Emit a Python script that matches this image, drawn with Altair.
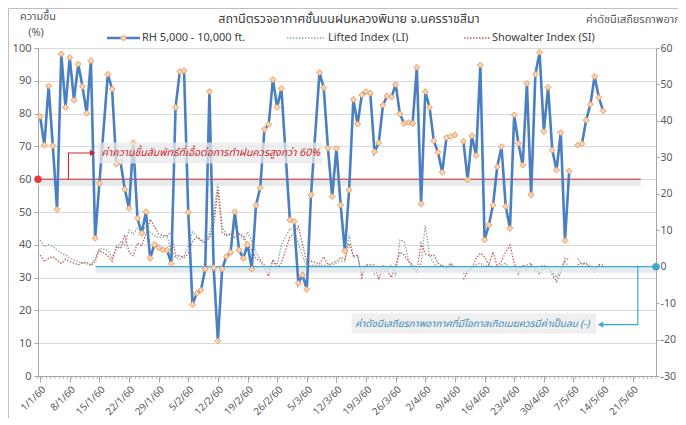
import json
import altair as alt
import pandas as pd

# ---------------- data ----------------
tick_labels = ["1/1/60", "8/1/60", "15/1/60", "22/1/60", "29/1/60", "5/2/60", "12/2/60",
               "19/2/60", "26/2/60", "5/3/60", "12/3/60", "19/3/60", "26/3/60", "2/4/60",
               "9/4/60", "16/4/60", "23/4/60", "30/4/60", "7/5/60", "14/5/60", "21/5/60"]
tick_days = [7 * i for i in range(len(tick_labels))]
n_axis_days = 146          # 1/1/60 .. 26/5/60 on the category date axis

# RH 5,000 - 10,000 ft. (%), one value per day from 1/1/60 (None = no sounding)
rh = [79.1, 70.4, 88.4, 70.2, 50.8, 98.2, 81.9, 97.1, 84.1, 95.1,
      88.3, 80.1, 96.1, 42.0, 58.7, None, 92.0, 87.5, 64.6, 65.3,
      56.9, 51.1, 71.1, 48.1, 43.5, 50.1, 35.9, 40.1, 39.1, 38.5,
      38.4, 34.2, 81.9, 92.8, 93.1, 49.9, 21.8, 25.2, 26.2, 32.6,
      86.7, 33.0, 10.7, 32.6, 36.4, 37.7, 50.1, 38.4, 35.9, 40.1,
      32.6, 52.1, 57.4, 75.2, 76.7, 90.4, 81.9, 87.7, None, 47.6,
      47.1, 28.3, 30.8, 26.4, 55.2, None, 92.5, 87.9, 69.4, 54.7,
      69.4, 52.1, 38.1, 56.7, 84.3, 76.8, 85.7, 86.7, 86.2, 68.4,
      71.1, 82.6, 85.4, 85.0, 88.9, 79.9, 77.0, 77.3, 77.0, 94.1,
      52.5, 86.7, 81.9, 71.7, 68.2, 62.1, 72.7, 73.0, 73.5, None,
      71.6, 59.8, 73.2, 67.2, 94.8, 41.5, 46.0, 52.1, 63.8, 69.9,
      51.7, 45.0, 79.6, 70.9, 64.3, 89.2, 55.2, 92.0, 98.7, 74.5,
      88.0, 68.9, 62.8, 74.2, 41.3, 62.5, None, 70.4, 70.8, 78.0,
      82.8, 91.3, 84.9, 80.9]

# Lifted Index (LI)
li = [7.3, 5.5, 6.1, 5.5, 4.6, 3.7, 3.2, 2.3, 1.8, 1.4,
      0.9, 1.4, 0.5, 2.3, 5.0, None, 4.5, 2.5, 5.0, 6.8,
      6.0, 10.0, 9.0, 10.5, 9.8, 11.0, 9.5, 8.5, 8.0, 8.0,
      8.5, 4.0, 2.5, 2.0, 3.0, 5.5, 9.5, 8.5, 7.0, 6.5,
      9.0, 14.0, 23.0, 11.0, 9.0, 8.5, 11.0, 9.0, 7.5, 9.5,
      7.0, 4.0, 2.0, 0.5, -1.0, 1.5, 0.5, 6.0, None, 10.5,
      10.0, 6.5, 3.0, -0.5, 0.5, None, 0.3, 0.5, 0.2, 0.5,
      1.0, 1.5, 1.5, 8.7, 2.5, 3.0, -2.0, 0.5, 0.0, -2.0,
      -1.0, -1.5, -1.0, 0.5, -2.5, 7.3, 7.0, 2.0, -0.5, -1.5,
      1.0, 11.4, 3.0, 1.0, 0.0, 0.5, -0.5, 0.5, 0.0, None,
      -2.0, -1.0, 0.0, 0.5, 1.0, 0.0, 0.5, 0.0, -0.5, 0.5,
      1.0, -0.5, -1.0, -0.5, 0.0, 0.5, 1.0, -1.0, 0.0, 0.5,
      -0.5, -1.5, -3.0, -1.0, 1.5, -0.5, None, 2.3, 0.5, 1.0,
      -0.5, -1.5, 0.5, -0.5]

# Showalter Index (SI)
si = [3.2, 1.4, 2.3, 2.7, 1.8, 0.9, 2.0, 1.4, 1.0, 0.5,
      1.2, 0.8, 0.3, 1.4, 4.5, None, 3.0, 1.5, 5.5, 5.0,
      8.7, 4.0, 3.0, 6.5, 5.8, 9.0, 13.0, 11.0, 9.0, 8.5,
      8.5, 9.5, 3.0, 3.0, 2.5, 3.5, 7.0, 8.0, 7.5, 6.5,
      8.0, 11.0, 21.0, 9.5, 8.5, 9.0, 8.0, 9.0, 8.5, 6.0,
      4.5, 2.3, 1.5, -0.5, -2.6, 2.0, -0.5, 1.0, None, 8.2,
      9.0, 11.0, 6.0, 1.0, 1.5, None, 0.8, 2.7, 0.5, 1.0,
      1.5, 2.5, 2.0, 6.4, 3.0, 3.2, -3.0, 0.5, 0.5, 0.5,
      -3.5, 0.5, -1.0, -3.0, 0.5, 4.0, 3.2, 1.5, 0.5, -1.5,
      6.4, 3.5, 3.0, 3.2, 1.0, 0.0, -0.5, 1.0, -0.5, None,
      -3.5, -1.5, -0.5, 2.3, 3.7, 2.7, 0.5, 4.0, 0.0, 1.5,
      4.1, 5.9, 1.0, -2.0, 0.5, -1.0, 0.5, -1.0, -2.0, -0.5,
      0.0, -2.3, -4.1, -1.5, 2.3, 2.0, None, 0.5, 1.0, 0.8,
      0.0, -0.5, 0.5, 0.5]

connected_gaps = [15, 58, 65]   # missing days that the lines bridge; other gaps break the lines

rh_threshold = 60
stability_threshold = 0

# ---------------- tables ----------------
rows = []
seg = 0
for d in range(len(rh)):
    if rh[d] is None:
        if d not in connected_gaps:
            seg += 1
        continue
    rows.append({"day": d, "seg": seg, "RH": rh[d], "LI": li[d], "SI": si[d]})
df = pd.DataFrame(rows)
minor_ticks = pd.DataFrame({"b": [i - 0.5 for i in range(n_axis_days + 1)]})

BLUE = "#4a7fc1"
LI_C = "#84ab9f"
SI_C = "#c2605e"
RED = "#c8262b"
CYAN = "#3fa7cf"
GRAY_T = "#595959"
AX_C = "#a6a6a6"
FONT = "Tahoma, 'Noto Sans Thai', 'Noto Sans', 'DejaVu Sans', sans-serif"

PAD_L, PAD_R, PAD_T, PAD_B = 30, 22, 40, 42
W, H = 618, 328
xdom = [-0.5, n_axis_days - 0.5]
xscale = alt.Scale(domain=xdom, nice=False, zero=False)
yl = alt.Scale(domain=[0, 100], nice=False, zero=False)
yr = alt.Scale(domain=[-30, 60], nice=False, zero=False)

label_expr = json.dumps(tick_labels) + "[round(datum.value / 7)]"
x_axis = alt.Axis(values=tick_days, labelExpr=label_expr, labelAngle=-45, labelAlign="right",
                  labelBaseline="top", labelFontSize=10, labelColor=GRAY_T, labelFont=FONT,
                  tickSize=6, tickColor=AX_C, domainColor=AX_C, grid=False, title=None,
                  labelPadding=2, labelOverlap=False, labelBound=False)
yl_axis = alt.Axis(orient="left", values=list(range(0, 101, 10)), grid=True, gridColor="#d9d9d9",
                   title=None, labelFontSize=11, labelColor=GRAY_T, labelFont=FONT, tickSize=4,
                   tickColor=AX_C, domainColor=AX_C, labelPadding=3)
yr_axis = alt.Axis(orient="right", values=list(range(-30, 61, 10)), grid=False, title=None,
                   labelFontSize=10.5, labelColor=GRAY_T, labelFont=FONT, tickSize=3,
                   tickColor=AX_C, domainColor=AX_C, labelPadding=1)


def X(field):
    return alt.X(field, scale=xscale, axis=x_axis)


def YR(field):
    return alt.Y(field, scale=yr, axis=yr_axis)


def YL(field):
    return alt.Y(field, scale=yl, axis=yl_axis)


base = alt.Chart(df)

# ---------- right-axis (stability index) layers ----------
li_line = base.mark_line(color=LI_C, strokeWidth=1.3, strokeDash=[1.5, 1.5]).encode(
    x=X("day:Q"), y=YR("LI:Q"), detail="seg:N")
si_line = base.mark_line(color=SI_C, strokeWidth=1.3, strokeDash=[1.5, 1.5]).encode(
    x=X("day:Q"), y=YR("SI:Q"), detail="seg:N")

cy = pd.DataFrame({"x": [13.1], "x2": [xdom[1]], "v": [stability_threshold],
                   "v2": [stability_threshold - 1.7]})
cy_shadow = alt.Chart(cy).mark_rect(color="#dde7ec", opacity=0.8).encode(
    x=X("x:Q"), x2="x2:Q", y=YR("v:Q"), y2="v2:Q")
cy_line = alt.Chart(cy).mark_rule(color=CYAN, strokeWidth=1.2).encode(
    x=X("x:Q"), x2="x2:Q", y=YR("v:Q"))
cy_dot = alt.Chart(pd.DataFrame({"x": [xdom[1]], "v": [stability_threshold]})).mark_point(
    filled=True, color=CYAN, size=55, opacity=1).encode(x=X("x:Q"), y=YR("v:Q"))

cy_box = alt.Chart(pd.DataFrame({"x": [73.6], "x2": [131.3], "v": [-12.8], "v2": [-18.4]})).mark_rect(
    color="#ececec", opacity=0.85).encode(x=X("x:Q"), x2="x2:Q", y=YR("v:Q"), y2="v2:Q")
cy_text = alt.Chart(pd.DataFrame({"x": [129.8], "v": [-15.7],
                                  "t": ["ค่าดัชนีเสถียรภาพอากาศที่มีโอกาสเกิดเมฆควรมีค่าเป็นลบ (-)"]})).mark_text(
    align="right", baseline="middle", fontStyle="italic", fontSize=10, color="#3b8db4", font=FONT).encode(
    x=X("x:Q"), y=YR("v:Q"), text="t:N")
cy_arrow = alt.Chart(pd.DataFrame({"x": [141.2, 141.2, 133.0], "v": [0, -15.9, -15.9], "o": [0, 1, 2]})).mark_line(
    color=CYAN, strokeWidth=1.2).encode(x=X("x:Q"), y=YR("v:Q"), order="o:Q")
cy_head = alt.Chart(pd.DataFrame({"x": [132.4], "v": [-15.9]})).mark_point(
    shape="triangle-left", filled=True, color=CYAN, size=40, opacity=1).encode(x=X("x:Q"), y=YR("v:Q"))

right = alt.layer(li_line, si_line, cy_shadow, cy_line, cy_dot, cy_box, cy_arrow, cy_head, cy_text)

# ---------- left-axis (RH) layers ----------
rd = pd.DataFrame({"x": [xdom[0]], "x2": [141.9], "r": [rh_threshold], "r2": [rh_threshold - 2.1]})
rd_shadow = alt.Chart(rd).mark_rect(color="#e4e4e4", opacity=0.8).encode(
    x=X("x:Q"), x2="x2:Q", y=YL("r:Q"), y2="r2:Q")
rd_line = alt.Chart(rd).mark_rule(color=RED, strokeWidth=1).encode(
    x=X("x:Q"), x2="x2:Q", y=YL("r:Q"))
rd_dot = alt.Chart(rd).mark_point(filled=True, color="#e8383d", size=55, opacity=1).encode(
    x=X("x:Q"), y=YL("r:Q"))

rh_line = base.mark_line(color=BLUE, strokeWidth=2.6).encode(
    x=X("day:Q"), y=YL("RH:Q"), detail="seg:N")
rh_pts = base.mark_point(shape="diamond", filled=True, fill="#fbd3b0", stroke="#e7a063",
                         strokeWidth=1, size=36, opacity=1).encode(x=X("day:Q"), y=YL("RH:Q"))

rd_box = alt.Chart(pd.DataFrame({"x": [13.6], "x2": [66.6], "r": [64.8], "r2": [71.2]})).mark_rect(
    color="#e9e9e9", opacity=0.75).encode(x=X("x:Q"), x2="x2:Q", y=YL("r:Q"), y2="r2:Q")
rd_text = alt.Chart(pd.DataFrame({"x": [14.5], "r": [68.0],
                                  "t": ["ค่าความชื้นสัมพัทธ์ที่เอื้อต่อการทำฝนควรสูงกว่า 60%"]})).mark_text(
    align="left", baseline="middle", fontStyle="italic", fontSize=10.5, color=RED, font=FONT).encode(
    x=X("x:Q"), y=YL("r:Q"), text="t:N")
rd_arrow = alt.Chart(pd.DataFrame({"x": [6.7, 6.7, 12.0], "r": [60, 68.0, 68.0], "o": [0, 1, 2]})).mark_line(
    color=RED, strokeWidth=1.1).encode(x=X("x:Q"), y=YL("r:Q"), order="o:Q")
rd_head = alt.Chart(pd.DataFrame({"x": [12.4], "r": [68.0]})).mark_point(
    shape="triangle-right", filled=True, color=RED, size=40, opacity=1).encode(x=X("x:Q"), y=YL("r:Q"))

# daily minor ticks on the date axis
ticks = alt.Chart(minor_ticks).mark_rule(color=AX_C, strokeWidth=0.8).encode(
    x=X("b:Q"), y=alt.value(H), y2=alt.value(H + 3))

left = alt.layer(rd_shadow, rd_line, rd_dot, rh_line, rh_pts, rd_box, rd_arrow, rd_head, rd_text, ticks)

# ---------- titles and legend (chart furniture) ----------
one = pd.DataFrame({"k": [0]})


def txt(s, x, y, size=11, color=GRAY_T, align="left"):
    return alt.Chart(one).mark_text(text=s, align=align, baseline="middle", fontSize=size,
                                    color=color, font=FONT).encode(x=alt.value(x), y=alt.value(y))


def seg_rule(x1, x2, y, color, width, dash=None):
    kw = dict(color=color, strokeWidth=width)
    if dash:
        kw["strokeDash"] = dash
    return alt.Chart(one).mark_rule(**kw).encode(x=alt.value(x1), x2=alt.value(x2), y=alt.value(y))


furniture = [
    txt("สถานีตรวจอากาศชั้นบนฝนหลวงพิมาย  จ.นครราชสีมา", 311, -29, 12.5, "#404040", "center"),
    txt("ความชื้น", 0, -31, 11, GRAY_T, "center"),
    txt("(%)", -2, -15, 11, GRAY_T, "center"),
    txt("ค่าดัชนีเสถียรภาพอากาศ", 548, -28, 11, GRAY_T, "left"),
    seg_rule(69, 102, -10, BLUE, 2.6),
    alt.Chart(one).mark_point(shape="diamond", filled=True, fill="#fbd3b0", stroke="#e7a063",
                              strokeWidth=1, size=36, opacity=1).encode(x=alt.value(85.5), y=alt.value(-10)),
    txt("RH 5,000 - 10,000 ft.", 104, -10, 11, "#404040"),
    seg_rule(249, 286, -10, LI_C, 1.3, [1.5, 1.5]),
    txt("Lifted Index (LI)", 290, -10, 11, "#404040"),
    seg_rule(426, 452, -10, SI_C, 1.3, [1.5, 1.5]),
    txt("Showalter Index (SI)", 454, -10, 11, "#404040"),
    alt.Chart(one).mark_rect(fill=None, stroke="#bfbfbf", strokeWidth=1).encode(
        x=alt.value(-PAD_L + 0.5), x2=alt.value(W + 60), y=alt.value(-PAD_T + 0.5), y2=alt.value(H + 80)),
]
left = alt.layer(left, *furniture)

chart = alt.layer(right, left).resolve_scale(y="independent").properties(
    width=W, height=H,
    autosize=alt.AutoSizeParams(type="none"),
    padding={"left": PAD_L, "top": PAD_T, "right": PAD_R, "bottom": PAD_B},
).configure_view(stroke=None).configure(background="white")

chart.save("out.html", embed_options={"renderer": "svg", "actions": False})
